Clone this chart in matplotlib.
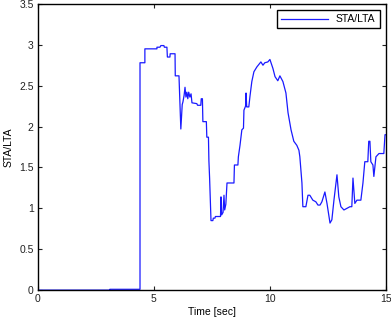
import matplotlib
matplotlib.use("Agg")
import matplotlib.pyplot as plt

time_sec = [0, 3.1, 3.1, 4.40, 4.40, 4.61, 4.61, 5.13, 5.13, 5.26, 5.30, 5.43, 5.45, 5.56, 5.58, 5.69,
            5.70, 5.91, 5.92, 6.08, 6.16, 6.22, 6.25, 6.30, 6.34, 6.38, 6.42, 6.46, 6.50, 6.55, 6.60,
            6.64, 6.85, 6.88, 7.02, 7.04, 7.09, 7.11, 7.26, 7.28, 7.35, 7.37, 7.40, 7.46, 7.54, 7.56,
            7.63, 7.65, 7.87, 7.89, 7.92, 7.98, 8.02, 8.05, 8.10, 8.15, 8.45, 8.47, 8.62, 8.64, 8.71,
            8.79, 8.86, 8.88, 8.95, 8.97, 9.00, 9.09, 9.14, 9.22, 9.31, 9.44, 9.61, 9.70, 9.78, 9.91,
            10.00, 10.13, 10.22, 10.34, 10.43, 10.56, 10.69, 10.78, 10.91, 11.03, 11.16, 11.25, 11.29,
            11.38, 11.42, 11.55, 11.64, 11.72, 11.85, 11.98, 12.07, 12.16, 12.24, 12.37, 12.46, 12.59,
            12.67, 12.76, 12.89, 12.97, 13.06, 13.19, 13.32, 13.45, 13.53, 13.58, 13.66, 13.75, 13.92,
            14.01, 14.09, 14.22, 14.26, 14.31, 14.35, 14.44, 14.48, 14.57, 14.70, 14.91, 14.96, 15.0]

sta_lta = [0, 0, 0.01, 0.01, 2.78, 2.78, 2.95, 2.95, 2.97, 2.97, 2.99, 2.99, 2.97, 2.97, 2.85, 2.85,
           2.89, 2.89, 2.62, 2.62, 1.97, 2.27, 2.30, 2.38, 2.48, 2.36, 2.42, 2.34, 2.42, 2.36, 2.40,
           2.29, 2.28, 2.26, 2.26, 2.34, 2.34, 2.06, 2.06, 1.87, 1.87, 1.58, 1.37, 0.85, 0.85, 0.88,
           0.88, 0.90, 0.90, 1.14, 0.92, 0.95, 1.16, 0.98, 1.05, 1.31, 1.31, 1.53, 1.53, 1.63, 1.77,
           1.96, 1.98, 2.20, 2.25, 2.41, 2.24, 2.24, 2.37, 2.55, 2.67, 2.73, 2.79, 2.75, 2.78, 2.79,
           2.82, 2.71, 2.61, 2.56, 2.62, 2.55, 2.41, 2.17, 1.96, 1.82, 1.77, 1.71, 1.63,
           1.31, 1.02, 1.02, 1.16, 1.16, 1.10, 1.08, 1.04, 1.04, 1.08, 1.20, 1.06, 0.82,
           0.86, 1.10, 1.41, 1.14, 1.02, 0.98, 1.00, 1.02, 1.02, 1.37, 1.06, 1.10, 1.10,
           1.31, 1.57, 1.57, 1.82, 1.82, 1.57, 1.53, 1.39, 1.63, 1.67, 1.67, 1.90, 1.90]

x_ticks = [0, 5, 10, 15]
y_ticks = [0, 0.5, 1, 1.5, 2, 2.5, 3, 3.5]
y_tick_labels = ["0", "0.5", "1", "1.5", "2", "2.5", "3", "3.5"]

plt.rcParams['font.family'] = ['Liberation Sans', 'DejaVu Sans']

fig = plt.figure(figsize=(3.91, 3.22), dpi=100)
ax = fig.add_axes([0.097, 0.099, 0.890, 0.889])
ax.plot(time_sec, sta_lta, color='#1a1aff', lw=0.9, label='STA/LTA')
ax.set_xlim(0, 15)
ax.set_ylim(0, 3.5)
ax.set_xticks(x_ticks)
ax.set_yticks(y_ticks)
ax.set_yticklabels(y_tick_labels)
ax.tick_params(direction='in', top=True, right=True, length=3, labelsize=7.5, colors='#222222', pad=3)
for s in ax.spines.values():
    s.set_linewidth(1.0)
ax.set_xlabel('Time [sec]', fontsize=7.5, labelpad=2)
ax.set_ylabel('STA/LTA', fontsize=7.5, labelpad=4)
leg = ax.legend(loc='upper right', fontsize=7.5, fancybox=False, edgecolor='black',
                framealpha=1, handlelength=4.5, borderaxespad=0.6)
leg.get_frame().set_linewidth(1.0)
fig.savefig('out.png', dpi=100)
